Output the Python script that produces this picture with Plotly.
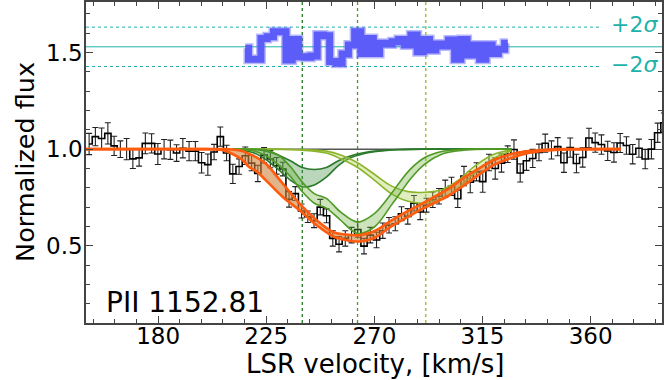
import plotly.graph_objects as go

# ---------------- data ----------------
VEL = [151.3, 153.9, 156.5, 159.1, 161.7, 164.3, 166.9, 169.5, 172.1, 174.7,
       177.3, 179.9, 182.5, 185.1, 187.7, 190.3, 192.9, 195.5, 198.1, 200.7,
       203.3, 205.9, 208.5, 211.1, 213.7, 216.3, 218.9, 221.5, 224.1, 226.7,
       229.3, 231.9, 234.5, 237.1, 239.7, 242.3, 244.9, 247.5, 250.1, 252.7,
       255.3, 257.9, 260.5, 263.1, 265.7, 268.3, 270.9, 273.5, 276.1, 278.7,
       281.3, 283.9, 286.5, 289.1, 291.7, 294.3, 296.9, 299.5, 302.1, 304.7,
       307.3, 309.9, 312.5, 315.1, 317.7, 320.3, 322.9, 325.5, 328.1, 330.7,
       333.3, 335.9, 338.5, 341.1, 343.7, 346.3, 348.9, 351.5, 354.1, 356.7,
       359.3, 361.9, 364.5, 367.1, 369.7, 372.3, 374.9, 377.5, 380.1, 382.7,
       385.3, 387.9, 390.5]
FLUX = [1.027, 1.065, 1.055, 1.082, 1.017, 1.000, 1.000, 0.950, 0.955, 1.030,
        1.030, 0.975, 1.000, 0.997, 0.980, 1.005, 0.990, 0.990, 0.930, 0.920,
        0.985, 1.065, 0.980, 0.872, 0.910, 0.966, 0.928, 0.874, 0.969, 0.949,
        0.914, 0.897, 0.740, 0.770, 0.680, 0.650, 0.630, 0.700, 0.655, 0.538,
        0.508, 0.538, 0.555, 0.584, 0.498, 0.555, 0.530, 0.578, 0.606, 0.614,
        0.666, 0.652, 0.720, 0.675, 0.710, 0.738, 0.756, 0.795, 0.808, 0.743,
        0.861, 0.829, 0.883, 0.832, 0.931, 0.900, 0.928, 0.974, 0.998, 0.877,
        0.940, 0.952, 0.983, 1.031, 0.996, 1.013, 0.930, 1.008, 0.926, 0.957,
        1.058, 1.034, 1.024, 0.991, 0.983, 1.032, 1.019, 0.974, 1.005, 0.949,
        1.000, 1.085, 1.137]
ERR = [0.055, 0.047, 0.055, 0.055, 0.050, 0.043, 0.055, 0.050, 0.043, 0.054,
       0.050, 0.054, 0.050, 0.050, 0.043, 0.050, 0.050, 0.050, 0.053, 0.055,
       0.040, 0.050, 0.040, 0.050, 0.040, 0.045, 0.040, 0.042, 0.040, 0.045,
       0.043, 0.035, 0.040, 0.036, 0.036, 0.030, 0.036, 0.040, 0.036, 0.040,
       0.040, 0.040, 0.040, 0.040, 0.040, 0.040, 0.040, 0.040, 0.040, 0.036,
       0.036, 0.040, 0.040, 0.040, 0.036, 0.040, 0.040, 0.045, 0.047, 0.045,
       0.050, 0.055, 0.047, 0.055, 0.043, 0.055, 0.047, 0.043, 0.050, 0.047,
       0.050, 0.047, 0.043, 0.047, 0.047, 0.047, 0.050, 0.050, 0.048, 0.050,
       0.050, 0.050, 0.050, 0.050, 0.050, 0.049, 0.045, 0.050, 0.047, 0.050,
       0.050, 0.050, 0.050]

# residuals (plotted around 1.53, +/-2 sigma at 1.63 / 1.43)
RES_VEL = VEL[25:68]
RES = [1.522, 1.466, 1.466, 1.573, 1.582, 1.608, 1.608, 1.462, 1.568, 1.479,
       1.476, 1.483, 1.591, 1.587, 1.454, 1.445, 1.493, 1.539, 1.608, 1.496,
       1.573, 1.496, 1.548, 1.544, 1.556, 1.568, 1.539, 1.591, 1.505, 1.568,
       1.514, 1.544, 1.534, 1.565, 1.466, 1.568, 1.488, 1.539, 1.466, 1.539,
       1.496, 1.517, 1.548]
RES_ZERO = 1.53
RES_PLUS = 1.632
RES_MINUS = 1.428

# total model band
TOT_V = [150.0, 200.0, 205.0, 208.0, 211.0, 215.0, 218.0, 221.0, 225.0, 232.0,
         239.0, 246.0, 253.0, 258.0, 264.0, 270.0, 277.0, 284.0, 291.0, 298.0,
         301.0, 307.0, 313.0, 320.0, 327.0, 334.0, 341.0, 350.0, 360.0, 372.6]
TOT_HI = [1.000, 1.000, 1.000, 1.000, 0.998, 0.990, 0.975, 0.957, 0.923, 0.820,
          0.717, 0.632, 0.570, 0.558, 0.555, 0.575, 0.630, 0.680, 0.726, 0.775,
          0.795, 0.850, 0.897, 0.945, 0.975, 0.990, 0.997, 1.000, 1.000, 1.000]
TOT_LO = [1.000, 1.000, 0.998, 0.990, 0.975, 0.945, 0.906, 0.885, 0.837, 0.751,
          0.683, 0.606, 0.548, 0.530, 0.522, 0.540, 0.600, 0.650, 0.697, 0.740,
          0.760, 0.810, 0.863, 0.920, 0.955, 0.980, 0.992, 0.999, 1.000, 1.000]

# component 1 (dark green, v ~ 240)
C1_V = [211, 215, 220, 225, 230, 235, 240, 245, 250, 255, 260, 265, 270, 275,
        280, 290, 300, 310, 320, 327]
C1_HI = [1.000, 1.000, 0.998, 0.990, 0.970, 0.940, 0.905, 0.895, 0.905, 0.940,
         0.965, 0.980, 0.990, 0.995, 0.998, 1.000, 1.000, 1.000, 1.000, 1.000]
C1_LO = [1.000, 0.995, 0.980, 0.945, 0.895, 0.840, 0.805, 0.815, 0.855, 0.915,
         0.955, 0.975, 0.987, 0.993, 0.997, 1.000, 1.000, 1.000, 1.000, 1.000]
# component 2 (green, v ~ 263)
C2_V = [211, 215, 220, 225, 230, 235, 240, 245, 250, 256, 263, 270, 277, 281,
        285, 291, 298, 305, 312, 320, 327]
C2_HI = [1.000, 1.000, 1.000, 0.995, 0.970, 0.910, 0.830, 0.770, 0.745, 0.674,
         0.623, 0.666, 0.769, 0.837, 0.897, 0.957, 0.988, 0.997, 1.000, 1.000, 1.000]
C2_LO = [1.000, 0.998, 0.990, 0.965, 0.920, 0.860, 0.780, 0.720, 0.695, 0.632,
         0.563, 0.597, 0.709, 0.777, 0.846, 0.923, 0.974, 0.992, 0.999, 1.000, 1.000]
# component 3 (yellow-green, v ~ 291)
C3_V = [211, 220, 230, 240, 250, 256, 263, 270, 277, 284, 291, 298, 305, 312,
        320, 327]
C3_HI = [1.000, 1.000, 1.000, 0.998, 0.990, 0.970, 0.930, 0.870, 0.810, 0.780,
         0.777, 0.790, 0.840, 0.915, 0.975, 0.995]
C3_LO = [1.000, 1.000, 0.999, 0.995, 0.980, 0.950, 0.905, 0.840, 0.770, 0.730,
         0.720, 0.745, 0.800, 0.880, 0.955, 0.990]

COMP_CENTERS = [240.0, 263.0, 291.4]
CONT_V = [211, 327]
CONT_F = [1.0, 1.0]

LABEL = "PII 1152.81"
X_RANGE = [150.0, 389.7]
Y_RANGE = [0.1, 1.762]

# ---------------- styles ----------------
FONT = "DejaVu Sans"
TEAL = "#20b2aa"
C1_COL, C1_FILL = "#2b7a2b", "rgba(60,140,60,0.35)"
C2_COL, C2_FILL = "#4f9a24", "rgba(110,175,60,0.35)"
C3_COL, C3_FILL = "#8db52c", "rgba(170,205,80,0.35)"
OR_COL, OR_FILL = "#ff5b0f", "rgba(205,130,60,0.6)"
VLINE_COLS = ["#1f7a1f", "#4f9a1a", "#9ab81e"]

fig = go.Figure()

# residual reference lines
fig.add_trace(go.Scatter(x=X_RANGE, y=[RES_ZERO, RES_ZERO], mode="lines",
                         line=dict(color=TEAL, width=1), hoverinfo="skip"))
for yv in (RES_PLUS, RES_MINUS):
    fig.add_trace(go.Scatter(x=[X_RANGE[0], 364.0], y=[yv, yv], mode="lines",
                             line=dict(color=TEAL, width=1, dash="dot"),
                             hoverinfo="skip"))

# vertical component markers
for vc, col in zip(COMP_CENTERS, VLINE_COLS):
    fig.add_trace(go.Scatter(x=[vc, vc], y=Y_RANGE, mode="lines",
                             line=dict(color=col, width=1.3, dash="dot"),
                             hoverinfo="skip"))

# data error bars and steps
fig.add_trace(go.Scatter(x=VEL, y=FLUX, mode="markers",
                         marker=dict(size=1, color="rgba(0,0,0,0)"),
                         error_y=dict(type="data", array=ERR, color="#222222",
                                      thickness=1.1, width=3)))
fig.add_trace(go.Scatter(x=VEL, y=FLUX, mode="lines",
                         line=dict(color="black", width=1.6, shape="hvh")))

# continuum for components
fig.add_trace(go.Scatter(x=CONT_V, y=CONT_F, mode="lines",
                         line=dict(color="#555555", width=1.5)))


def band(xs, lo, hi, col, fill, w):
    fig.add_trace(go.Scatter(x=xs, y=lo, mode="lines",
                             line=dict(color=col, width=w, shape="spline")))
    fig.add_trace(go.Scatter(x=xs, y=hi, mode="lines", fill="tonexty",
                             fillcolor=fill,
                             line=dict(color=col, width=w, shape="spline")))


band(C1_V, C1_LO, C1_HI, C1_COL, C1_FILL, 1.6)
band(C3_V, C3_LO, C3_HI, C3_COL, C3_FILL, 1.6)
band(C2_V, C2_LO, C2_HI, C2_COL, C2_FILL, 1.6)
band(TOT_V, TOT_LO, TOT_HI, OR_COL, OR_FILL, 2.6)

# residual band
fig.add_trace(go.Scatter(x=RES_VEL, y=RES, mode="lines",
                         line=dict(color="rgba(100,100,255,0.45)", width=10,
                                   shape="hvh")))
fig.add_trace(go.Scatter(x=RES_VEL, y=RES, mode="lines",
                         line=dict(color="#5c5cf8", width=7, shape="hvh")))

ann = [
    dict(x=157.5, y=0.205, xref="x", yref="y", text=LABEL, showarrow=False,
         xanchor="left", yanchor="middle", font=dict(size=28, color="black", family=FONT)),
    dict(x=367.8, y=RES_PLUS + 0.012, xref="x", yref="y", text="+2<i>σ</i>", showarrow=False,
         xanchor="left", yanchor="middle", font=dict(size=22, color=TEAL, family=FONT)),
    dict(x=367.8, y=RES_MINUS + 0.012, xref="x", yref="y", text="\u22122<i>σ</i>", showarrow=False,
         xanchor="left", yanchor="middle", font=dict(size=22, color=TEAL, family=FONT)),
    dict(x=0.501, y=-0.127, xref="paper", yref="paper", text="LSR velocity, [km/s]",
         showarrow=False, xanchor="center", yanchor="middle",
         font=dict(size=26, color="black", family=FONT)),
    dict(x=-0.107, y=0.503, xref="paper", yref="paper", text="Normalized flux",
         showarrow=False, xanchor="center", yanchor="middle", textangle=-90,
         font=dict(size=25.5, color="black", family=FONT)),
]

axis_common = dict(showline=True, linecolor="#444444", linewidth=1.6, mirror="allticks",
                   ticks="inside", ticklen=7, tickwidth=1.3, tickcolor="#444444",
                   showgrid=False, zeroline=False,
                   tickfont=dict(size=23, color="black", family=FONT))

fig.update_layout(
    width=664, height=380,
    margin=dict(l=86, r=1, t=0, b=57),
    paper_bgcolor="white", plot_bgcolor="white",
    showlegend=False,
    font=dict(family=FONT),
    annotations=ann,
    xaxis=dict(range=X_RANGE, tick0=0, dtick=45, ticklabelstandoff=-8,
               minor=dict(dtick=9, tick0=0, ticks="inside", ticklen=4, tickcolor="#444444"),
               **axis_common),
    yaxis=dict(range=Y_RANGE, tick0=0, dtick=0.5, tickformat=".1f", ticklabelstandoff=-3,
               minor=dict(dtick=0.1, tick0=0, ticks="inside", ticklen=4, tickcolor="#444444"),
               **axis_common),
)

fig.write_html("out.html", config={"displayModeBar": False},
               post_script="document.body.style.margin='0';document.body.style.overflow='hidden';")
